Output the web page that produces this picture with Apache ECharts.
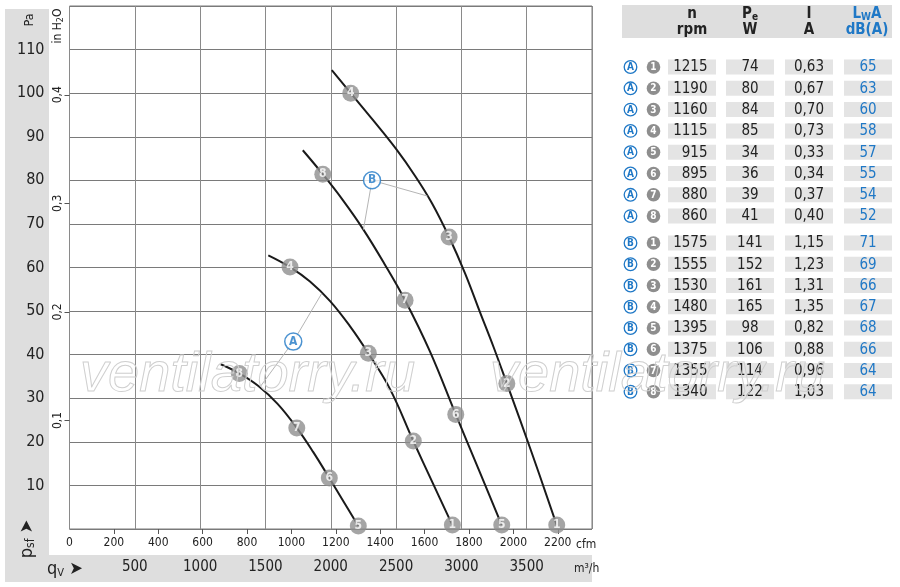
<!DOCTYPE html>
<html>
<head>
<meta charset="utf-8">
<script src="https://cdn.jsdelivr.net/npm/echarts@6/dist/echarts.min.js"></script>
<style>
html,body{margin:0;padding:0;background:#fff;}
#chart{width:900px;height:587px;}
</style>
</head>
<body>
<div id="chart"></div>
<script>
// ---------- data (flow in m³/h, static pressure in Pa) ----------
const curveA_1to4 = [[1522,62.8],[1688,60.1],[1841,56.8],[1995,52.3],[2148,46.5],[2288,40.3],[2454,32.1],[2632,20.2],[2783,10.4],[2931,0.9]];
const curveA_5to8 = [[1158,37.8],[1300,35.7],[1446,32.8],[1593,28.7],[1740,23.2],[1865,17.7],[1989,11.7],[2100,6.2],[2211,0.7]];
const curveB_1to4 = [[2008,105.3],[2153,100.0],[2324,93.8],[2500,87.2],[2646,81.0],[2776,74.7],[2906,67.0],[3029,58.6],[3143,49.7],[3247,41.7],[3348,33.4],[3534,17.9],[3730,0.9]];
const curveB_5to8 = [[1786,86.9],[1939,81.4],[2094,75.4],[2250,68.7],[2408,61.0],[2569,52.5],[2760,40.7],[2957,26.3],[3133,13.6],[3309,0.9]];

// operating points [m³/h, Pa, point number]
const pointsA = [[2931,0.9,1],[2632,20.2,2],[2288,40.3,3],[1688,60.1,4],[2211,0.7,5],[1989,11.7,6],[1740,23.2,7],[1300,35.7,8]];
const pointsB = [[3730,0.9,1],[3348,33.4,2],[2906,67.0,3],[2153,100.0,4],[3309,0.9,5],[2957,26.3,6],[2569,52.5,7],[1939,81.4,8]];

// callouts: label position and the two curve points it points to
const calloutA = {label:'A', pos:[1713,43.0], targets:[[1930,54.0],[1459,32.6]]};
const calloutB = {label:'B', pos:[2316,80.0], targets:[[2250,68.7],[2740,76.4]]};

// axes
const flowMax = 4000, flowStep = 500;        // m³/h
const pressMax = 120, pressStep = 10;        // Pa
const cfmTicks = [200,400,600,800,1000,1200,1400,1600,1800,2000,2200];
const cfmLabels = [0,200,400,600,800,1000,1200,1400,1600,1800,2000,2200];
const inH2OTicks = [0.1,0.2,0.3,0.4];
const M3H_PER_CFM = 1.69901, PA_PER_INH2O = 249.089;

// table
const rowGroup = ['A','A','A','A','A','A','A','A','B','B','B','B','B','B','B','B'];
const rowPoint = [1,2,3,4,5,6,7,8,1,2,3,4,5,6,7,8];
const speedRpm = [1215,1190,1160,1115,915,895,880,860,1575,1555,1530,1480,1395,1375,1355,1340];
const powerW   = [74,80,84,85,34,36,39,41,141,152,161,165,98,106,114,122];
const currentA = [0.63,0.67,0.70,0.73,0.33,0.34,0.37,0.40,1.15,1.23,1.31,1.35,0.82,0.88,0.96,1.03];
const soundDbA = [65,63,60,58,57,55,54,52,71,69,66,67,68,66,64,64];

// ---------- styling ----------
const NARROW = '"Liberation Sans Narrow","DejaVu Sans Condensed","Arial Narrow",sans-serif';
const BLUE = '#1f78c6';
const PANEL = '#dedede';
const CELL = '#e4e4e4';
const MARK = '#8e8e8e';

const chart = echarts.init(document.getElementById('chart'), null, {renderer:'canvas'});

function curveSeries(data){
  return {type:'line', data:data, xAxisIndex:0, yAxisIndex:0, smooth:0.4, showSymbol:false,
    lineStyle:{color:'#1a1a1a', width:2}, z:3, silent:true};
}
function markerSeries(pts){
  return {type:'scatter', data:pts.map(p=>({value:[p[0],p[1]], num:p[2]})), symbol:'circle', symbolSize:17,
    itemStyle:{color:MARK}, z:5, silent:true,
    label:{show:true, position:'inside', formatter:p=>String(p.data.num), color:'#fff', fontWeight:'bold', fontSize:12, fontFamily:NARROW}};
}
function calloutSeries(c){
  return [
    {type:'line', data:[c.targets[0], c.pos, c.targets[1]], showSymbol:false, lineStyle:{color:'#b5b5b5', width:1}, z:4, silent:true},
    {type:'scatter', data:[c.pos], symbol:'circle', symbolSize:17, z:6, silent:true,
      itemStyle:{color:'#fff', borderColor:BLUE, borderWidth:1.5},
      label:{show:true, position:'inside', formatter:c.label, color:BLUE, fontWeight:'bold', fontSize:12, fontFamily:NARROW}}
  ];
}

// ---------- graphic (panels, unit labels, table) ----------
const graphics = [];
// gray panels
graphics.push({type:'rect', shape:{x:5, y:9, width:44, height:573}, style:{fill:PANEL}, z:-10});
graphics.push({type:'rect', shape:{x:5, y:555, width:587, height:27}, style:{fill:PANEL}, z:-10});
// axis names
graphics.push({type:'text', x:30, y:20, rotation:Math.PI/2, style:{text:'Pa', font:'12px '+NARROW, fill:'#222', align:'center', verticalAlign:'middle'}});
graphics.push({type:'text', x:58, y:26, rotation:Math.PI/2, style:{text:'in H{s|2}O', font:'12px '+NARROW, fill:'#222', align:'center', verticalAlign:'middle',
  rich:{s:{fontSize:9, fontFamily:NARROW, verticalAlign:'bottom', padding:[6,0,0,0]}}}});
graphics.push({type:'text', x:27, y:539, rotation:Math.PI/2, style:{text:'p{s|sf} ➤', font:'18px '+NARROW, fill:'#222', align:'center', verticalAlign:'middle',
  rich:{s:{fontSize:12, fontFamily:NARROW, padding:[8,0,0,0]}}}});
graphics.push({type:'text', x:47, y:569, style:{text:'q{s|V} ➤', font:'18px '+NARROW, fill:'#222', align:'left', verticalAlign:'middle',
  rich:{s:{fontSize:11, fontFamily:NARROW, padding:[8,0,0,0]}}}});
graphics.push({type:'text', x:576, y:545, style:{text:'cfm', font:'12px '+NARROW, fill:'#222', align:'left', verticalAlign:'middle'}});
graphics.push({type:'text', x:574, y:569, style:{text:'m³/h', font:'12px '+NARROW, fill:'#222', align:'left', verticalAlign:'middle'}});

// table header
graphics.push({type:'rect', shape:{x:622, y:5, width:270, height:33}, style:{fill:PANEL}, z:-10});
const hdrX = [692, 750, 809, 867];
graphics.push({type:'text', x:hdrX[0], y:14, style:{text:'n', font:'bold 15px '+NARROW, fill:'#222', align:'center', verticalAlign:'middle'}});
graphics.push({type:'text', x:hdrX[0], y:30, style:{text:'rpm', font:'bold 15px '+NARROW, fill:'#222', align:'center', verticalAlign:'middle'}});
graphics.push({type:'text', x:hdrX[1], y:14, style:{text:'P{s|e}', font:'bold 15px '+NARROW, fill:'#222', align:'center', verticalAlign:'middle',
  rich:{s:{fontSize:10, fontWeight:'bold', fontFamily:NARROW, padding:[6,0,0,0]}}}});
graphics.push({type:'text', x:hdrX[1], y:30, style:{text:'W', font:'bold 15px '+NARROW, fill:'#222', align:'center', verticalAlign:'middle'}});
graphics.push({type:'text', x:hdrX[2], y:14, style:{text:'I', font:'bold 15px '+NARROW, fill:'#222', align:'center', verticalAlign:'middle'}});
graphics.push({type:'text', x:hdrX[2], y:30, style:{text:'A', font:'bold 15px '+NARROW, fill:'#222', align:'center', verticalAlign:'middle'}});
graphics.push({type:'text', x:hdrX[3], y:14, style:{text:'L{s|W}A', font:'bold 15px '+NARROW, fill:BLUE, align:'center', verticalAlign:'middle',
  rich:{s:{fontSize:10, fontWeight:'bold', fontFamily:NARROW, fill:BLUE, padding:[6,0,0,0]}}}});
graphics.push({type:'text', x:hdrX[3], y:30, style:{text:'dB(A)', font:'bold 15px '+NARROW, fill:BLUE, align:'center', verticalAlign:'middle'}});

// table rows
const cellX = [668, 726, 785, 844];
const cellW = [48, 48, 48, 48];
for (let i = 0; i < speedRpm.length; i++) {
  const yc = i < 8 ? 67 + i * 21.3 : 243 + (i - 8) * 21.25;
  for (let c = 0; c < 4; c++) {
    graphics.push({type:'rect', shape:{x:cellX[c], y:yc - 7.5, width:cellW[c], height:15}, style:{fill:CELL}, z:-5});
  }
  graphics.push({type:'circle', shape:{cx:630.5, cy:yc, r:6.3}, style:{fill:'#fff', stroke:BLUE, lineWidth:1.3}});
  graphics.push({type:'text', x:630.5, y:yc + 0.5, style:{text:rowGroup[i], font:'bold 10px '+NARROW, fill:BLUE, align:'center', verticalAlign:'middle'}});
  graphics.push({type:'circle', shape:{cx:653.5, cy:yc, r:6.8}, style:{fill:MARK}});
  graphics.push({type:'text', x:653.5, y:yc + 0.5, style:{text:String(rowPoint[i]), font:'bold 10px '+NARROW, fill:'#fff', align:'center', verticalAlign:'middle'}});
  graphics.push({type:'text', x:707.5, y:yc + 0.5, style:{text:String(speedRpm[i]), font:'15px '+NARROW, fill:'#222', align:'right', verticalAlign:'middle'}});
  graphics.push({type:'text', x:750, y:yc + 0.5, style:{text:String(powerW[i]), font:'15px '+NARROW, fill:'#222', align:'center', verticalAlign:'middle'}});
  graphics.push({type:'text', x:809, y:yc + 0.5, style:{text:currentA[i].toFixed(2).replace('.', ','), font:'15px '+NARROW, fill:'#222', align:'center', verticalAlign:'middle'}});
  graphics.push({type:'text', x:868, y:yc + 0.5, style:{text:String(soundDbA[i]), font:'15px '+NARROW, fill:BLUE, align:'center', verticalAlign:'middle'}});
}

// watermark
['ventilatorry.ru','ventilatorry.ru'].forEach((t, k) => {
  graphics.push({type:'text', x: k === 0 ? 80 : 490, y:375, z:100, silent:true,
    style:{text:t, font:'italic 56px "Liberation Sans",Arial,sans-serif', fill:'rgba(255,255,255,0)', stroke:'#cfcfcf', lineWidth:1, align:'left', verticalAlign:'middle'}});
});

const option = {
  animation:false,
  backgroundColor:'#fff',
  grid:{left:69.5, top:6, right:308, bottom:58, show:true, borderColor:'#7a7a7a', borderWidth:1, backgroundColor:'transparent'},
  xAxis:[
    {type:'value', min:0, max:flowMax, interval:flowStep, position:'bottom',
      axisLine:{show:false}, axisTick:{show:false},
      axisLabel:{margin:31, fontSize:15, color:'#222', fontFamily:NARROW,
        formatter:v => (v === 0 || v === flowMax) ? '' : String(v)},
      splitLine:{show:true, lineStyle:{color:'#8a8a8a', width:1}}},
    {type:'value', min:0, max:flowMax / M3H_PER_CFM, position:'bottom', offset:0,
      axisLine:{show:false},
      axisTick:{show:true, inside:false, length:5, lineStyle:{color:'#555'}, customValues:cfmTicks},
      axisLabel:{margin:8, fontSize:12, color:'#222', fontFamily:NARROW, customValues:cfmLabels, formatter:v => String(v)},
      splitLine:{show:false}}
  ],
  yAxis:[
    {type:'value', min:0, max:pressMax, interval:pressStep, position:'left',
      axisLine:{show:false}, axisTick:{show:false},
      axisLabel:{margin:25, fontSize:16, color:'#222', fontFamily:NARROW,
        formatter:v => (v === 0 || v === pressMax) ? '' : String(v)},
      splitLine:{show:true, lineStyle:{color:'#7a7a7a', width:1}}},
    {type:'value', min:0, max:pressMax / PA_PER_INH2O, position:'left', offset:0,
      axisLine:{show:false},
      axisTick:{show:true, inside:false, length:5, lineStyle:{color:'#555'}, customValues:inH2OTicks},
      axisLabel:{margin:6, fontSize:12, rotate:90, color:'#222', fontFamily:NARROW, customValues:inH2OTicks,
        formatter:v => String(v).replace('.', ',')},
      splitLine:{show:false}}
  ],
  series:[
    curveSeries(curveA_1to4), curveSeries(curveA_5to8), curveSeries(curveB_1to4), curveSeries(curveB_5to8),
    markerSeries(pointsA), markerSeries(pointsB),
    ...calloutSeries(calloutA), ...calloutSeries(calloutB)
  ],
  graphic:graphics
};
chart.setOption(option);
</script>
</body>
</html>
